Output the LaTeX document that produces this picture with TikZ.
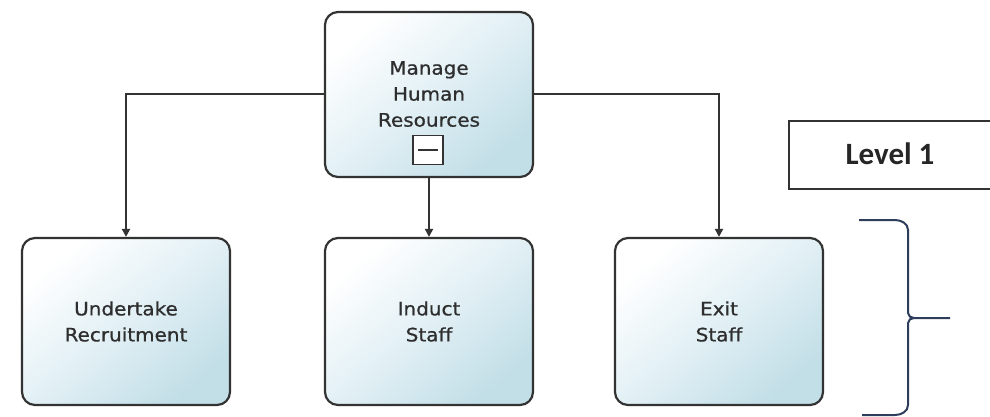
\documentclass[tikz,border=0pt]{standalone}
\usepackage{fontspec}
\usetikzlibrary{arrows.meta}
\newfontfamily\boxfont[FakeStretch=1.08,FakeBold=0.8]{DejaVu Sans}
\newfontfamily\lvlfont{Carlito}
\definecolor{edgegray}{HTML}{333333}
\definecolor{textgray}{HTML}{2E2E2E}
\definecolor{boxblue}{RGB}{194,222,231}
\definecolor{boxmid}{RGB}{226,240,245}
\definecolor{bracenavy}{HTML}{2E3D5C}
\begin{document}
\begin{tikzpicture}[x=1pt,y=-1pt,
  procbox/.style={draw=edgegray, line width=2.2pt, rounded corners=13pt,
    minimum width=208pt, minimum height=166pt, inner sep=0pt,
    top color=white, bottom color=boxblue, middle color=boxmid, shading angle=40},
  boxtext/.style={font=\boxfont\fontsize{18.5}{26}\selectfont, text=textgray, align=center},
  link/.style={draw=edgegray, line width=2pt, -{Triangle[length=8pt,width=8pt]}}]
\useasboundingbox (0,0) rectangle (990,416);

% parent process
\node[procbox, minimum height=165pt] (hr) at (429,94.5) {};
\node[boxtext] (hrtext) at (429,94) {Manage\\Human\\Resources};
\node[draw=edgegray, line width=1.8pt, fill=white, minimum width=30pt, minimum height=29pt, inner sep=0pt] (collapse) at (428,150) {};
\draw[edgegray, line width=2.4pt] ([xshift=-10pt]collapse.center) -- ([xshift=10pt]collapse.center);

% child processes
\node[procbox, minimum height=167pt] (rec) at (126,321.5) {};
\node[boxtext] at (rec.center) {Undertake\\Recruitment};
\node[procbox, minimum height=167pt] (ind) at (429,321.5) {};
\node[boxtext] at (ind.center) {Induct\\Staff};
\node[procbox, minimum height=167pt] (ext) at (719,321.5) {};
\node[boxtext] at (ext.center) {Exit\\Staff};

% connectors
\draw[link] (hr.west |- 0,94) -| (rec.north);
\draw[link] (hr.south) -- (ind.north);
\draw[link] (hr.east |- 0,94) -| (ext.north);

% level label
\node[draw=edgegray, line width=1.8pt, fill=white, minimum width=215pt, minimum height=68pt,
  anchor=north west, inner sep=0pt] (lvl) at (788,120) {};
\node[font=\lvlfont\bfseries\fontsize{31}{36}\selectfont, text=black!85] (lvltext) at (890,154) {Level 1};

% brace
\coordinate (btop) at (859,220);
\coordinate (btip) at (950,318);
\coordinate (bbot) at (862,415);
\draw[bracenavy, line width=2pt] (btop) -- (895,220) to[out=0,in=90] (908,230) -- (908,313)
  to[out=-90,in=180] (914,318) -- (btip);
\draw[bracenavy, line width=2pt] (914,318) to[out=180,in=90] (908,323) -- (908,405)
  to[out=-90,in=0] (895,415) -- (bbot);
\end{tikzpicture}
\end{document}
